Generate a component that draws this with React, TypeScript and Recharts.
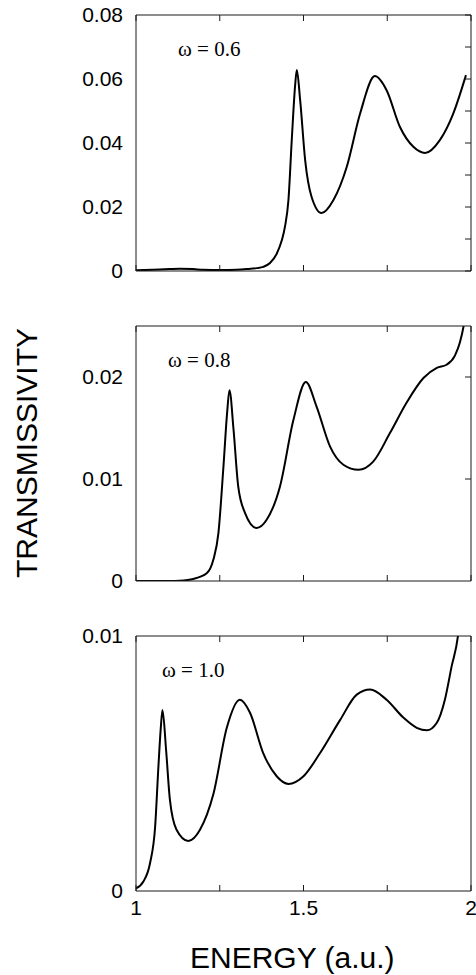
import React from 'react';
import { LineChart, Line, XAxis, YAxis } from 'recharts';

// Panel 1: omega = 0.6
const energyA = [1.0, 1.05, 1.1, 1.13, 1.17, 1.2, 1.25, 1.3, 1.33, 1.36, 1.38, 1.40, 1.42, 1.435, 1.445, 1.455, 1.465, 1.475, 1.48, 1.49, 1.505, 1.524, 1.554, 1.589, 1.629, 1.669, 1.713, 1.748, 1.788, 1.828, 1.863, 1.907, 1.947, 1.985];
const transA = [0.0002, 0.0004, 0.0006, 0.0007, 0.0006, 0.0004, 0.0003, 0.0004, 0.0006, 0.0009, 0.0013, 0.0025, 0.0054, 0.0095, 0.014, 0.0221, 0.041, 0.058, 0.0628, 0.0534, 0.0346, 0.0232, 0.0181, 0.0221, 0.0325, 0.0492, 0.0609, 0.0565, 0.045, 0.0388, 0.0369, 0.0409, 0.0492, 0.0612];

// Panel 2: omega = 0.8
const energyB = [1.0, 1.1, 1.13, 1.171, 1.211, 1.231, 1.246, 1.261, 1.272, 1.279, 1.291, 1.305, 1.325, 1.36, 1.39, 1.43, 1.47, 1.507, 1.539, 1.579, 1.619, 1.664, 1.708, 1.758, 1.808, 1.858, 1.898, 1.927, 1.952, 1.967, 1.979, 1.99];
const transB = [0, 0, 0.00003, 0.0002, 0.00075, 0.0021, 0.0047, 0.0112, 0.0165, 0.0187, 0.0149, 0.0093, 0.0067, 0.0052, 0.006, 0.0093, 0.0158, 0.0195, 0.0171, 0.0132, 0.0114, 0.0109, 0.0117, 0.0145, 0.0175, 0.0199, 0.0209, 0.0212, 0.0221, 0.0234, 0.0252, 0.028];

// Panel 3: omega = 1.0
const energyC = [1.0, 1.022, 1.042, 1.057, 1.067, 1.074, 1.079, 1.09, 1.101, 1.121, 1.156, 1.191, 1.231, 1.271, 1.31, 1.34, 1.38, 1.42, 1.455, 1.5, 1.549, 1.609, 1.659, 1.699, 1.748, 1.798, 1.838, 1.868, 1.898, 1.922, 1.942, 1.962, 1.975];
const transC = [0.0001, 0.00037, 0.0011, 0.0025, 0.0049, 0.0064, 0.0071, 0.0055, 0.0036, 0.0024, 0.00196, 0.0024, 0.0038, 0.0064, 0.0075, 0.007, 0.0054, 0.0045, 0.0042, 0.0045, 0.0054, 0.0067, 0.0077, 0.0079, 0.0075, 0.0068, 0.0064, 0.0063, 0.0066, 0.0075, 0.0088, 0.0101, 0.012];

const xTicks = [1, 1.25, 1.5, 1.75, 2];
const xLabelTicks = [1, 1.5, 2];
const yTicksA = [0, 0.02, 0.04, 0.06, 0.08];
const yMinorA = [0, 0.01, 0.02, 0.03, 0.04, 0.05, 0.06, 0.07, 0.08];
const yTicksB = [0, 0.01, 0.02];
const yMinorB = [0.01, 0.02];
const yTicksC = [0, 0.01];
const yMinorC: number[] = [];
const omegaLabels = ['\u03C9 = 0.6', '\u03C9 = 0.8', '\u03C9 = 1.0'];
const yTitle = 'TRANSMISSIVITY';
const xTitle = 'ENERGY (a.u.)';

const zip = (xs: number[], ys: number[]) => xs.map((x, i) => ({ e: x, t: ys[i] }));

const FONT = '"Liberation Sans", Arial, Helvetica, sans-serif';
const SERIF = '"Liberation Serif", "Times New Roman", serif';
const FRAME = '#1a1a1a';

type PanelProps = {
  data: { e: number; t: number }[];
  yMax: number;
  yTicks: number[];
  yMinor: number[];
  top: number;
  height: number;
  marginTop: number;
  marginBottom: number;
  showX: boolean;
};

function EmptyTick() {
  return <g />;
}

function XLabelTick(props: any) {
  const { x, y, payload } = props;
  if (!xLabelTicks.includes(payload.value)) return <g />;
  return (
    <text x={x} y={y} dy="0.71em" textAnchor="middle" fill="#000" fontSize={21} fontFamily={FONT}>
      {String(payload.value)}
    </text>
  );
}

function Panel({ data, yMax, yTicks, yMinor, top, height, marginTop, marginBottom, showX }: PanelProps) {
  return (
    <div style={{ position: 'absolute', left: 0, top, width: 476, height }}>
      <LineChart
        width={476}
        height={height}
        data={data}
        margin={{ top: marginTop, right: 4, bottom: marginBottom, left: 0 }}
      >
        <XAxis
          xAxisId="b"
          dataKey="e"
          type="number"
          domain={[1, 2]}
          ticks={xTicks}
          interval={0}
          allowDataOverflow
          orientation="bottom"
          height={showX ? 30 : 1}
          tickSize={-6}
          tickMargin={15}
          tick={showX ? <XLabelTick /> : <EmptyTick />}
          axisLine={{ stroke: FRAME, strokeWidth: 1 }}
          tickLine={{ stroke: FRAME, strokeWidth: 1 }}
        />
        <XAxis
          xAxisId="t"
          dataKey="e"
          type="number"
          domain={[1, 2]}
          ticks={xTicks}
          interval={0}
          allowDataOverflow
          orientation="top"
          height={1}
          tickSize={-6}
          tick={<EmptyTick />}
          axisLine={{ stroke: FRAME, strokeWidth: 1 }}
          tickLine={{ stroke: FRAME, strokeWidth: 1 }}
        />
        <YAxis
          yAxisId="l"
          type="number"
          domain={[0, yMax]}
          ticks={yTicks}
          interval={0}
          allowDataOverflow
          orientation="left"
          width={136}
          tickSize={0}
          tickMargin={13}
          tickLine={false}
          axisLine={{ stroke: FRAME, strokeWidth: 1 }}
          tick={{ fill: '#000', fontSize: 21, fontFamily: FONT }}
          tickFormatter={(v: number) => String(v)}
        />
        <YAxis
          yAxisId="r"
          type="number"
          domain={[0, yMax]}
          ticks={yMinor.length ? yMinor : [yMax]}
          interval={0}
          allowDataOverflow
          orientation="right"
          width={1}
          tickSize={yMinor.length ? -6 : 0}
          tick={<EmptyTick />}
          axisLine={{ stroke: FRAME, strokeWidth: 1 }}
          tickLine={{ stroke: FRAME, strokeWidth: 1 }}
        />
        <Line
          xAxisId="b"
          yAxisId="l"
          dataKey="t"
          type="monotone"
          stroke="#000"
          strokeWidth={2}
          dot={false}
          activeDot={false}
          isAnimationActive={false}
        />
      </LineChart>
    </div>
  );
}

export default function App() {
  return (
    <div style={{ position: 'absolute', left: 0, top: 0, width: 476, height: 975, background: '#fff', overflow: 'hidden' }}>
      <Panel data={zip(energyA, transA)} yMax={0.08} yTicks={yTicksA} yMinor={yMinorA} top={0} height={292} marginTop={14} marginBottom={20} showX={false} />
      <Panel data={zip(energyB, transB)} yMax={0.025} yTicks={yTicksB} yMinor={yMinorB} top={300} height={302} marginTop={25} marginBottom={20} showX={false} />
      <Panel data={zip(energyC, transC)} yMax={0.01} yTicks={yTicksC} yMinor={yMinorC} top={620} height={355} marginTop={15} marginBottom={54} showX={true} />
      <svg width={476} height={975} style={{ position: 'absolute', left: 0, top: 0, pointerEvents: 'none' }}>
        <text x={178} y={56} fontSize={21} fontFamily={SERIF} fill="#000">{omegaLabels[0]}</text>
        <text x={168} y={367} fontSize={21} fontFamily={SERIF} fill="#000">{omegaLabels[1]}</text>
        <text x={162} y={677} fontSize={21} fontFamily={SERIF} fill="#000">{omegaLabels[2]}</text>
        <text x={37} y={453} fontSize={30} fontFamily={FONT} fill="#000" textAnchor="middle" transform="rotate(-90, 37, 453)">{yTitle}</text>
        <text x={190} y={968} fontSize={30} fontFamily={FONT} fill="#000">{xTitle}</text>
      </svg>
    </div>
  );
}
